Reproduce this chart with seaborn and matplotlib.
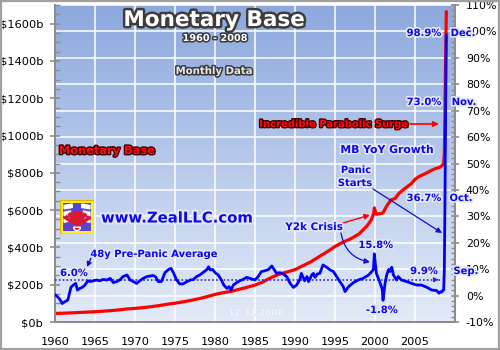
import matplotlib
matplotlib.use("Agg")
import numpy as np
import matplotlib.pyplot as plt
import matplotlib.patheffects as pe
from matplotlib.patches import Rectangle, Wedge, Polygon
from matplotlib.ticker import MultipleLocator
from matplotlib.transforms import blended_transform_factory
import seaborn as sns

# ---------------- data ----------------
# US monetary base, $ billions (decimal years)
base_dates = [1960.0, 1961.0, 1962.0, 1963.0, 1964.0, 1965.0, 1966.0, 1967.0,
              1968.0, 1969.0, 1970.0, 1971.0, 1972.0, 1973.0, 1974.0, 1975.0,
              1976.0, 1977.0, 1978.0, 1979.0, 1980.0, 1981.0, 1982.0, 1983.0,
              1984.0, 1985.0, 1986.0, 1987.0, 1988.0, 1989.0, 1990.0, 1991.0,
              1992.0, 1993.0, 1994.0, 1995.0, 1996.0, 1997.0, 1998.0, 1999.0,
              1999.5, 1999.83, 1999.92, 2000.0, 2000.17, 2000.5, 2001.0,
              2001.5, 2002.0, 2002.5, 2003.0, 2003.5, 2004.0, 2004.5, 2005.0,
              2005.5, 2006.0, 2006.5, 2007.0, 2007.5,
              2008.0, 2008.083, 2008.167, 2008.25, 2008.333, 2008.417,
              2008.5, 2008.583, 2008.667, 2008.75, 2008.833, 2008.917]
base_values = [46, 47, 49, 51, 53, 55, 58, 61,
               65, 70, 73, 77, 82, 88, 95, 101,
               108, 116, 125, 136, 148, 157, 164, 175,
               186, 198, 215, 238, 256, 268, 281, 302,
               323, 350, 376, 405, 428, 447, 472, 515,
               545, 580, 612, 598, 578, 580, 585,
               625, 655, 662, 690, 708, 725, 740, 765,
               780, 790, 800, 812, 822,
               828, 830, 832, 835, 838, 842,
               845, 850, 905, 1129, 1436, 1665]

# Year-over-year growth of the monetary base, %
growth_dates = [1960.0, 1960.3, 1960.6, 1960.9, 1961.25, 1961.6, 1961.75, 1962.0,
                1962.3, 1962.6, 1962.8, 1963.1, 1963.4, 1963.75, 1964.1, 1964.4,
                1964.8, 1965.2, 1965.6, 1966.0, 1966.5, 1966.9, 1967.3, 1967.7,
                1968.1, 1968.5, 1969.0, 1969.4, 1969.8, 1970.2, 1970.6, 1971.0,
                1971.5, 1971.9, 1972.3, 1972.6, 1972.9, 1973.3, 1973.75, 1974.2,
                1974.5, 1974.8, 1975.2, 1975.6, 1976.0, 1976.5, 1976.9, 1977.3,
                1977.7, 1978.1, 1978.5, 1979.0, 1979.2, 1979.4, 1979.7, 1980.0,
                1980.4, 1980.8, 1981.1, 1981.5, 1981.75, 1982.0, 1982.3, 1982.7,
                1983.1, 1983.5, 1983.96, 1984.4, 1984.8, 1985.0, 1985.4, 1985.8,
                1986.25, 1986.7, 1987.1, 1987.3, 1987.7, 1988.1, 1988.5, 1988.96,
                1989.4, 1989.8, 1990.2, 1990.6, 1990.8, 1991.2, 1991.5, 1991.7,
                1992.1, 1992.3, 1992.5, 1992.8, 1993.1, 1993.5, 1993.96, 1994.4,
                1994.8, 1995.2, 1995.6, 1996.0, 1996.25, 1996.7, 1997.3, 1997.9,
                1998.5, 1999.2, 1999.6, 1999.8, 1999.917, 2000.17, 2000.5, 2000.8,
                2000.92, 2001.0, 2001.25, 2001.46, 2001.7, 2001.875, 2002.1, 2002.3,
                2002.7, 2002.9, 2003.3, 2003.96, 2004.6, 2005.2, 2005.8, 2006.5,
                2007.1, 2007.7,
                2008.0, 2008.083, 2008.167, 2008.25, 2008.333, 2008.417,
                2008.5, 2008.583, 2008.667, 2008.75, 2008.833, 2008.917]
growth_pct = [0.4, -0.4, -1.4, -3.0, -2.3, -1.7, 0.2, 3.2,
              4.0, 4.6, 2.1, 2.7, 3.1, 4.0, 5.6, 5.3,
              5.6, 5.9, 5.6, 6.1, 5.9, 6.5, 4.9, 5.3,
              5.9, 7.2, 7.8, 5.9, 5.3, 4.6, 5.6, 6.5,
              7.2, 7.4, 7.6, 7.0, 5.3, 5.3, 8.7, 9.9,
              10.3, 8.7, 5.9, 4.4, 4.4, 5.3, 5.9, 6.1,
              7.2, 7.8, 8.7, 9.9, 10.9, 9.7, 9.9, 8.7,
              7.8, 5.9, 4.0, 2.7, 3.4, 2.1, 4.0, 4.9,
              5.6, 6.1, 6.9, 6.5, 6.1, 5.9, 7.2, 9.1,
              9.4, 9.9, 11.2, 10.3, 8.4, 8.7, 8.2, 7.2,
              4.6, 3.1, 4.0, 6.1, 8.4, 5.6, 7.2, 5.3,
              7.8, 8.4, 6.9, 8.2, 8.4, 11.6, 10.7, 9.7,
              9.1, 7.2, 5.3, 3.6, 1.5, 3.4, 4.9, 5.9,
              6.5, 7.8, 9.1, 9.9, 15.8, 8.4, 5.9, 3.4,
              2.0, -1.8, 4.6, 7.8, 9.9, 9.1, 10.7, 7.8,
              5.9, 7.2, 5.9, 5.3, 4.6, 4.0, 4.0, 3.1,
              2.1, 1.9,
              0.9, 1.2, 1.4, 1.5, 1.3, 1.6,
              2.0, 2.1, 9.9, 36.7, 73.0, 98.9]

avg_growth = 6.0                       # 48-year pre-panic average
y2k_peak = 15.8
y2k_trough = -1.8
panic_months = ["Sep.", "Oct.", "Nov.", "Dec."]
panic_pct = [9.9, 36.7, 73.0, 98.9]

year_ticks = list(range(1960, 2006, 5))
base_ticks = list(range(0, 1601, 200))
pct_ticks = list(range(-10, 111, 10))

# ---------------- style ----------------
sns.set_style("white")
plt.rcParams["font.family"] = ["DejaVu Sans"]

W, H = 500, 350
fig = plt.figure(figsize=(W / 100, H / 100), dpi=100)
fig.patch.set_facecolor("white")


def fpos(x, y):
    """pixel position -> figure fraction"""
    return (x / W, 1 - y / H)


ax = fig.add_axes([55 / W, 1 - 322 / H, 400 / W, 317 / H])
ax2 = ax.twinx()

# gradient plot background
grad = np.linspace(0, 1, 256)[:, None]
top = np.array([0.55, 0.66, 0.87])
bot = np.array([0.89, 0.92, 0.97])
img = top[None, None, :] * (1 - grad[:, :, None]) + bot[None, None, :] * grad[:, :, None]
ax.imshow(img, extent=[0, 1, 0, 1], transform=ax.transAxes, aspect="auto",
          zorder=0, interpolation="bilinear")

ax.set_xlim(1960, 2010)
ax.set_ylim(0, 1700)
ax2.set_ylim(-10, 110)

# white grid: vertical at year ticks, horizontal at the percent ticks
for yr in year_ticks[1:]:
    ax.axvline(yr, color="white", lw=1.1, zorder=0.5)
hb = blended_transform_factory(ax.transAxes, ax2.transData)
for p in pct_ticks[1:]:
    ax.plot([0, 1], [p, p], transform=hb, color="white", lw=1.1, zorder=0.5)

# series
sns.lineplot(x=base_dates, y=base_values, ax=ax, color="#ff0000", lw=2.3,
             zorder=3, estimator=None, sort=False)
sns.lineplot(x=growth_dates, y=growth_pct, ax=ax2, color="#0000ff", lw=2.0,
             zorder=4, estimator=None, sort=False)
ax2.hlines(avg_growth, 1960, 2008.1, colors="#2a2ae0", linestyles=(0, (1, 1.3)),
           lw=1.2, zorder=3)
ax2.annotate("", xy=(2008.3, avg_growth), xytext=(2007.3, avg_growth),
             arrowprops=dict(arrowstyle="-|>", color="#2a2ae0", lw=0.8,
                             mutation_scale=7))

ax.set_xlim(1960, 2010)
ax.set_ylim(0, 1700)
ax2.set_ylim(-10, 110)
for a in (ax, ax2):
    a.set_xlabel("")
    a.set_ylabel("")

# axes, ticks
spine_c = "#8c8c8c"
for a in (ax, ax2):
    a.spines["top"].set_visible(False)
    for s in ("left", "right", "bottom"):
        a.spines[s].set_color(spine_c)
        a.spines[s].set_linewidth(1.3)

ax.set_xticks(year_ticks)
ax.set_xticklabels([str(y) for y in year_ticks])
ax.set_yticks(base_ticks)
ax.set_yticklabels([f"${v}b" for v in base_ticks])
ax.yaxis.set_minor_locator(MultipleLocator(50))
ax2.set_yticks(pct_ticks)
ax2.set_yticklabels([f"{v}%" for v in pct_ticks])
ax2.yaxis.set_minor_locator(MultipleLocator(2))

ax.tick_params(axis="x", which="major", direction="inout", length=6, width=1.2,
               color=spine_c, pad=8, labelsize=8.2, labelcolor="black")
ax.tick_params(axis="y", which="major", direction="inout", length=7, width=1.2,
               color=spine_c, pad=5, labelsize=8.2, labelcolor="black")
ax.tick_params(axis="y", which="minor", direction="in", length=3.5, width=1.0,
               color=spine_c)
ax2.tick_params(axis="y", which="major", direction="inout", length=5.5, width=1.2,
                color=spine_c, pad=5, labelsize=7.9, labelcolor="black")
ax2.tick_params(axis="y", which="minor", direction="in", length=3, width=1.0,
                color=spine_c)

# ---------------- text ----------------
def label(x, y, s, size, color, edge, lw=2.5, weight="bold", alpha=1.0, ha="center"):
    fx, fy = fpos(x, y)
    fig.text(fx, fy, s, ha=ha, va="center", fontsize=size, fontweight=weight,
             color=color, alpha=alpha, zorder=10,
             path_effects=[pe.withStroke(linewidth=lw, foreground=edge)])


dark = "#3c3c3c"
blue = "#0a0aee"
glow = "#e4e6f2"
red = "#ff0a0a"
redge = "#3a0505"

label(214, 20, "Monetary Base", 15.5, "white", dark, lw=3.5)
label(215, 38, "1960 - 2008", 7, "white", dark, lw=2.2)
label(214, 71, "Monthly Data", 7.3, "#e8e8e8", dark, lw=2.2)
label(107, 151, "Monetary Base", 8.2, red, redge, lw=2)
label(334, 124, "Incredible Parabolic Surge", 7.2, red, redge, lw=2)
label(387, 150, "MB YoY Growth", 7.8, blue, glow, lw=2.5)
label(356, 170, "Panic", 7.2, blue, glow)
label(355, 183, "Starts", 7.2, blue, glow)
label(314, 227, "Y2k Crisis", 7.5, blue, glow)
label(154, 254, "48y Pre-Panic Average", 7.2, blue, glow)
label(74, 273, f"{avg_growth:.1f}%", 7.2, blue, glow)
label(376, 245, f"{y2k_peak:.1f}%", 7.2, blue, glow)
label(382, 310, f"{y2k_trough:.1f}%", 7.2, blue, glow)
label(177, 218, "www.ZealLLC.com", 10.7, blue, glow, lw=3)
label(256, 313, "12.31.2008", 6.3, "#f4f6fb", "#d6dcec", lw=0.6)

pct_y = [271, 198, 102, 33]
mon_x = [466, 461, 464, 463]
for m, v, yy, mx in zip(panic_months, panic_pct, pct_y, mon_x):
    label(424, yy, f"{v:.1f}%", 7.2, blue, glow)
    label(mx, yy, m, 7.2, blue, glow)

# callout arrows
def arrow(p0, p1, color, rad=0.0, lw=0.9, ms=8):
    ax.annotate("", xy=fpos(*p1), xytext=fpos(*p0), xycoords="figure fraction",
                textcoords="figure fraction", zorder=9, annotation_clip=False,
                arrowprops=dict(arrowstyle="-|>", color=color, lw=lw,
                                mutation_scale=ms, shrinkA=0, shrinkB=0,
                                connectionstyle=f"arc3,rad={rad}"))


arrow((410, 124), (439, 124), "#ff0000", lw=1.2)
arrow((373, 189), (442, 233), "#1010d0", lw=0.9)
arrow((343, 223), (370, 215), "#ff0000", lw=1.0)
arrow((341, 233), (370, 262), "#1010d0", rad=0.35, lw=0.9)
arrow((91, 258), (87, 267), "#1010d0", lw=1.0, ms=7)

# logo: yellow frame, violet field, white bars, red shell
lax = fig.add_axes([60 / W, 1 - 234 / H, 34 / W, 34 / H])
lax.set_xlim(0, 1)
lax.set_ylim(0, 1)
lax.axis("off")
lax.add_patch(Rectangle((0, 0), 1, 1, facecolor="#ffee22", edgecolor="#e8b400", lw=1))
lax.add_patch(Rectangle((0.1, 0.1), 0.8, 0.8, facecolor="#5a44d0", edgecolor="none"))
for k in range(3):
    yb = 0.74 - k * 0.2
    lax.add_patch(Polygon([[0.12, yb], [0.12, yb + 0.1], [0.36 - k * 0.05, yb + 0.14],
                           [0.36 - k * 0.05, yb + 0.04]], facecolor="white"))
    lax.add_patch(Polygon([[0.88, yb], [0.88, yb + 0.1], [0.64 + k * 0.05, yb + 0.14],
                           [0.64 + k * 0.05, yb + 0.04]], facecolor="white"))
for th in range(30, 150, 20):
    lax.add_patch(Wedge((0.5, 0.2), 0.48, th, th + 17, facecolor="#e8141e", edgecolor="none"))
lax.add_patch(Wedge((0.5, 0.2), 0.1, 180, 360, facecolor="#e8141e"))

# outer frame
fig.add_artist(Rectangle((0.001, 0.002), 0.997, 0.996, transform=fig.transFigure,
                         fill=False, edgecolor="#a0a0a0", lw=1.6))

fig.savefig("out.png", dpi=100)
